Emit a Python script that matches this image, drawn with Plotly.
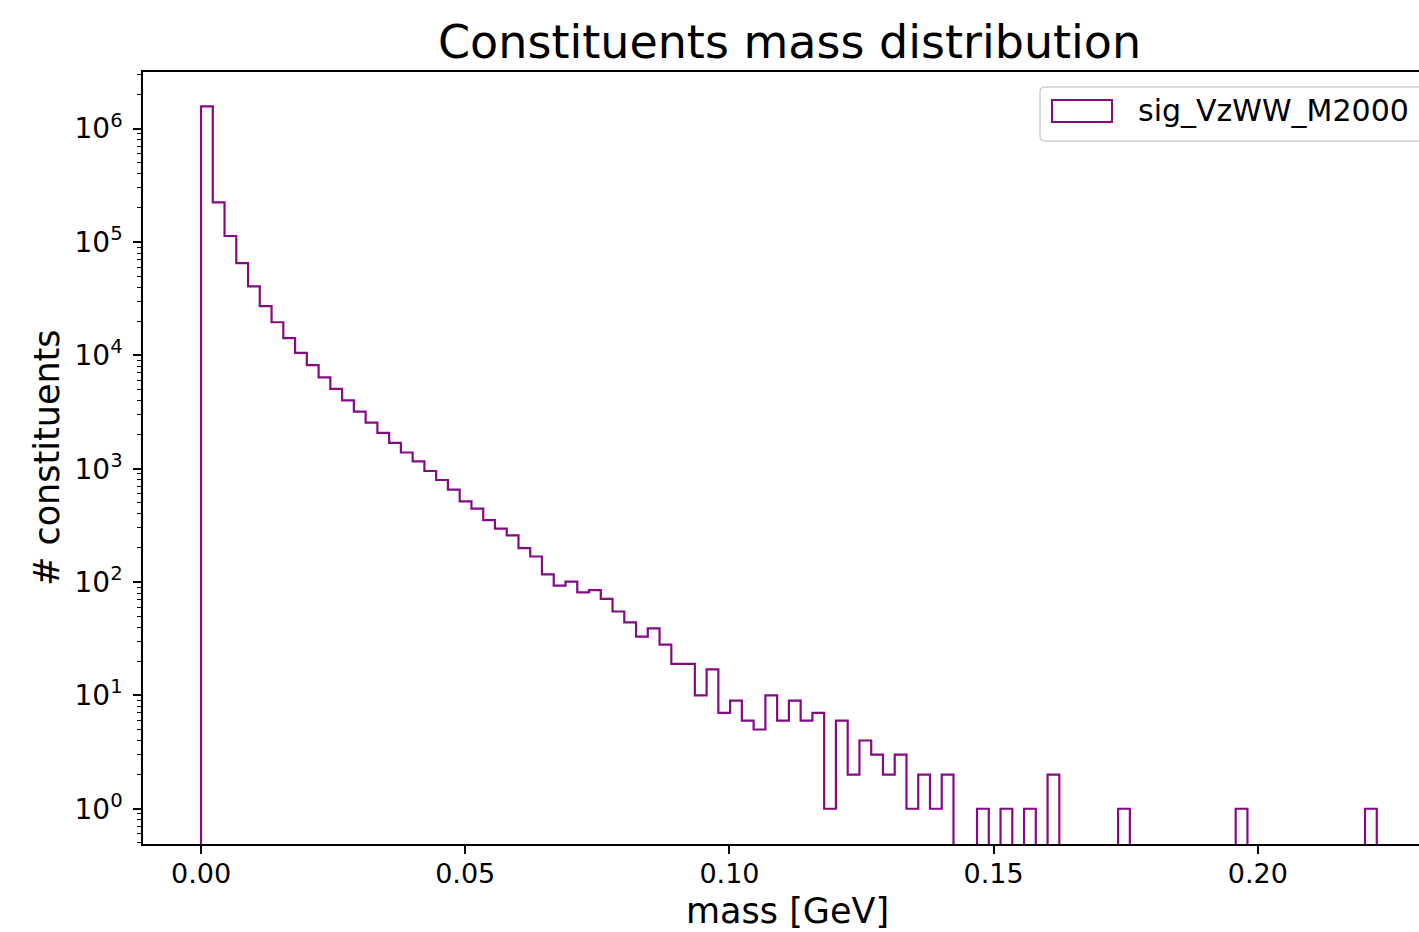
import numpy as np
import plotly.graph_objects as go

# ---- data ----
bin_lo = 0.0
bin_width = 0.002225
counts = [
    1570000, 224000, 113000, 65000, 40600, 27200, 19600, 14200, 10500, 8200,
    6400, 5060, 4000, 3190, 2550, 2070, 1690, 1390, 1160, 955,
    795, 654, 515, 444, 352, 296, 258, 199, 168, 117,
    93, 101, 81, 85, 71, 55, 44, 33, 39, 28,
    19, 19, 10, 17, 7, 9, 6, 5, 10, 6,
    9, 6, 7, 1, 6, 2, 4, 3, 2, 3,
    1, 2, 1, 2, 0, 0, 1, 0, 1, 0,
    1, 0, 2, 0, 0, 0, 0, 0, 1, 0,
    0, 0, 0, 0, 0, 0, 0, 0, 1, 0,
    0, 0, 0, 0, 0, 0, 0, 0, 0, 1,
]
series_name = "sig_VzWW_M2000"
x_ticks = [0.00, 0.05, 0.10, 0.15, 0.20]
x_tick_labels = ["0.00", "0.05", "0.10", "0.15", "0.20"]
y_ticks = [1, 10, 100, 1000, 10000, 100000, 1000000]
y_tick_labels = ["10<sup>0</sup>", "10<sup>1</sup>", "10<sup>2</sup>", "10<sup>3</sup>",
                 "10<sup>4</sup>", "10<sup>5</sup>", "10<sup>6</sup>"]

# ---- layout geometry ----
W, H = 1419, 932
ML, MR, MT, MB = 143, 0, 72, 88
PW, PH = W - ML - MR, H - MT - MB
PURPLE = "#850a85"
FONT = "DejaVu Sans"


def px(x):
    return (x - ML) / PW


def py(y):
    return (H - MB - y) / PH


# step outline (matplotlib histtype='step')
edges = bin_lo + bin_width * np.arange(len(counts) + 1)
floor = 1e-2  # below visible range, so zero bins drop to the axis
ys_body = [c if c > 0 else floor for c in counts]
xs = [edges[0]] + list(edges)
ys = [floor] + ys_body + [floor]

fig = go.Figure()
fig.add_trace(go.Scatter(
    x=xs, y=ys, mode="lines", line=dict(color=PURPLE, width=2.2, shape="hv"),
    showlegend=False, hoverinfo="skip",
))

minor_vals = []
for k in range(-1, 7):
    for m in range(2, 10):
        minor_vals.append(m * 10 ** k)

fig.update_layout(
    width=W, height=H,
    margin=dict(l=ML, r=MR, t=MT, b=MB, pad=0),
    paper_bgcolor="white", plot_bgcolor="white",
    font=dict(family=FONT, color="black", size=27),
    showlegend=False,
    xaxis=dict(
        range=[-0.01098, 0.23049], showgrid=False, zeroline=False,
        showline=True, linecolor="black", linewidth=1.6, mirror=True,
        ticks="outside", ticklen=8, tickwidth=1.6, tickcolor="black",
        tickvals=x_ticks, ticktext=x_tick_labels, ticklabelstandoff=-3,
        tickfont=dict(size=27, family=FONT, color="black"),
    ),
    yaxis=dict(
        type="log", range=[-0.311, 6.5], showgrid=False, zeroline=False,
        showline=True, linecolor="black", linewidth=1.6, mirror=False,
        ticks="outside", ticklen=8, tickwidth=1.6, tickcolor="black",
        tickvals=y_ticks, ticktext=y_tick_labels, ticklabelstandoff=5,
        tickfont=dict(size=28, family=FONT, color="black"),
        minor=dict(tickvals=minor_vals, ticks="outside", ticklen=4.5,
                   tickwidth=1.2, tickcolor="black", showgrid=False),
    ),
)

annotations = [
    dict(text="Constituents mass distribution", x=px(789), y=py(42),
         xref="paper", yref="paper", xanchor="center", yanchor="middle",
         showarrow=False, font=dict(size=46, family=FONT, color="black")),
    dict(text="mass [GeV]", x=px(788), y=py(911),
         xref="paper", yref="paper", xanchor="center", yanchor="middle",
         showarrow=False, font=dict(size=35, family=FONT, color="black")),
    dict(text="# constituents", x=px(47), y=py(458), textangle=-90,
         xref="paper", yref="paper", xanchor="center", yanchor="middle",
         showarrow=False, font=dict(size=35, family=FONT, color="black")),
    dict(text=series_name, x=px(1136), y=py(111),
         xref="paper", yref="paper", xanchor="left", yanchor="middle",
         showarrow=False, font=dict(size=30, family=FONT, color="black")),
]
fig.update_layout(annotations=annotations)

# legend frame (rounded) and handle
x0, x1, y0, y1, r = 1040, 1426, 87, 141, 5
rx, ry = r / PW, r / PH
X0, X1, Y0, Y1 = px(x0), px(x1), py(y1), py(y0)
path = (f"M {X0+rx},{Y0} L {X1-rx},{Y0} Q {X1},{Y0} {X1},{Y0+ry} "
        f"L {X1},{Y1-ry} Q {X1},{Y1} {X1-rx},{Y1} L {X0+rx},{Y1} "
        f"Q {X0},{Y1} {X0},{Y1-ry} L {X0},{Y0+ry} Q {X0},{Y0} {X0+rx},{Y0} Z")
fig.add_shape(type="path", path=path, xref="paper", yref="paper",
              line=dict(color="#d0d0d0", width=1.5), fillcolor="rgba(255,255,255,0.8)",
              layer="above")
fig.add_shape(type="rect", xref="paper", yref="paper",
              x0=px(1052), x1=px(1112), y0=py(122), y1=py(100),
              line=dict(color=PURPLE, width=2), fillcolor="rgba(0,0,0,0)",
              layer="above")

fig.write_html("out.html")
